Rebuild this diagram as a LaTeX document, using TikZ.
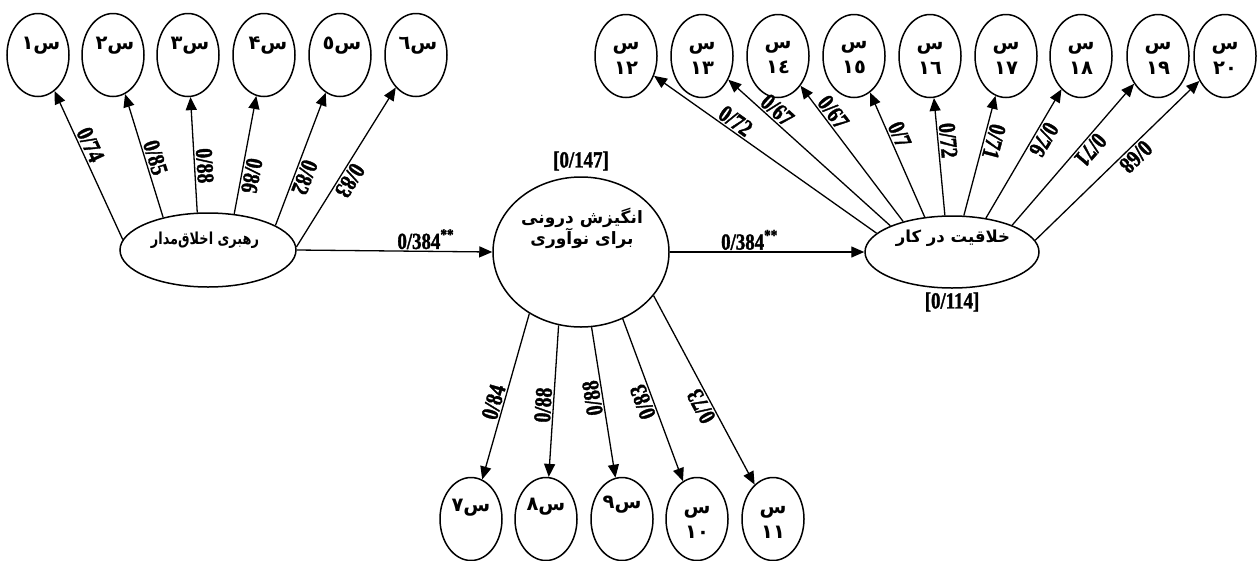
\documentclass[tikz,border=0pt]{standalone}
\usepackage{fontspec}
\usetikzlibrary{shapes.geometric,arrows.meta}
\TeXXeTstate=1
\newfontfamily\arabicfont[Script=Arabic]{DejaVu Sans}
\newfontfamily\arabiccond[Script=Arabic,FakeStretch=0.78]{DejaVu Sans}
\newfontfamily\numfont[FakeStretch=0.82,FakeBold=1.4]{Liberation Serif}
\begin{document}
\begin{tikzpicture}[x=1pt,y=-1pt,
  ell/.style={draw, ellipse, line width=1.5pt, minimum width=62pt, minimum height=83pt, inner sep=0pt},
  bigell/.style={draw, ellipse, line width=1.5pt, inner sep=0pt},
  artext/.style={font=\arabicfont\bfseries\fontsize{19.5}{25}\selectfont, inner sep=0pt, align=center},
  backarrow/.style={{Triangle[length=13pt,width=11pt]}-, line width=1.3pt},
  fwdarrow/.style={-{Triangle[length=13pt,width=11pt]}, line width=1.3pt},
  coef/.style={sloped, allow upside down, above, inner sep=1.5pt, font=\numfont\bfseries\fontsize{24}{24}\selectfont},
  numtext/.style={inner sep=1.5pt, font=\numfont\bfseries\fontsize{23}{23}\selectfont}
]
\useasboundingbox (0,0) rectangle (1257,560);

% main latent variables
\node[bigell, minimum width=176pt, minimum height=74pt] (rah) at (208,250) {};
\node[bigell, minimum width=176pt, minimum height=150pt] (mot) at (581,252) {};
\node[bigell, minimum width=174pt, minimum height=72pt] (cre) at (952,252) {};

\node[font=\arabiccond\bfseries\fontsize{16.5}{18}\selectfont, inner sep=0pt] (trah) at (205,240) {\beginR رهبری اخلاق‌مدار\endR};
\node[artext, font=\arabicfont\bfseries\fontsize{17}{21}\selectfont] (tmot) at (582,228) {\beginR انگیزش درونی\endR\\\beginR برای نوآوری\endR};
\node[artext, font=\arabicfont\bfseries\fontsize{16.5}{21}\selectfont] (tcre) at (953,238) {\beginR خلاقیت در کار\endR};

\node[numtext] (r2mot) at (581,161) {[0/147]};
\node[numtext] (r2cre) at (952,302) {[0/114]};

% indicator ellipses, left group
\foreach \i/\x in {1/38,2/113,3/188,4/264,5/340,6/416}
  \node[ell] (s\i) at (\x,55) {};
\node[artext] (t1) at (41,46) {\beginR س۱\endR};
\node[artext] (t2) at (115,46) {\beginR س۲\endR};
\node[artext] (t3) at (190,46) {\beginR س۳\endR};
\node[artext] (t4) at (268,46) {\beginR س۴\endR};
\node[artext] (t5) at (342,46) {\beginR س٥\endR};
\node[artext] (t6) at (418,46) {\beginR س٦\endR};

% indicator ellipses, bottom group
\foreach \i/\x in {7/471,8/546,9/622,10/697,11/773}
  \node[ell] (s\i) at (\x,519) {};
\node[artext] (t7) at (471,508) {\beginR س۷\endR};
\node[artext] (t8) at (546,507) {\beginR س۸\endR};
\node[artext] (t9) at (622,505) {\beginR س۹\endR};
\node[artext] (t10) at (697,522) {س\\۱۰};
\node[artext] (t11) at (773,522) {س\\۱۱};

% indicator ellipses, right group
\foreach \i/\x in {12/626,13/702,14/778,15/854,16/930,17/1006,18/1081,19/1158,20/1225}
  \node[ell] (s\i) at (\x,56) {};
\node[artext] (t12) at (626,58) {س\\۱۲};
\node[artext] (t13) at (702,58) {س\\۱۳};
\node[artext] (t14) at (778,58) {س\\۱٤};
\node[artext] (t15) at (854,58) {س\\۱٥};
\node[artext] (t16) at (930,58) {س\\۱٦};
\node[artext] (t17) at (1006,58) {س\\۱۷};
\node[artext] (t18) at (1081,58) {س\\۱۸};
\node[artext] (t19) at (1158,58) {س\\۱۹};
\node[artext] (t20) at (1225,58) {س\\۲۰};

% structural paths
\draw[fwdarrow] (rah.east) -- node[numtext, above, pos=0.66] (c1) {0/384\textsuperscript{**}} (mot.west);
\draw[fwdarrow] (mot.east) -- node[numtext, above, pos=0.41] (c2) {0/384\textsuperscript{**}} (cre.west);

% loadings, left group
\draw[backarrow] (s1) -- node[coef, pos=0.39] {0/74} (rah.173);
\draw[backarrow] (s2) -- node[coef, pos=0.54] {0/85} (rah.144);
\draw[backarrow] (s3) -- node[coef, pos=0.60] {0/88} (rah.106);
\draw[backarrow] (s4) -- node[coef, pos=0.66] {0/86} (rah.54);
\draw[backarrow] (s5) -- node[coef, pos=0.61] {0/82} (rah.20);
\draw[backarrow] (s6) -- node[coef, pos=0.55] {0/83} (rah.2);

% loadings, bottom group
\draw[backarrow] (s7) -- node[coef, pos=0.45] {0/84} (mot.230);
\draw[backarrow] (s8) -- node[coef, pos=0.47] {0/88} (mot.253);
\draw[backarrow] (s9) -- node[coef, pos=0.54] {0/88} (mot.278);
\draw[backarrow] (s10) -- node[coef, pos=0.51] {0/83} (mot.302);
\draw[backarrow] (s11) -- node[coef, pos=0.44] {0/73} (mot.329);

% loadings, right group
\draw[backarrow] (s12) -- node[coef, pos=0.34] {0/72} (cre.166);
\draw[backarrow] (s13) -- node[coef, pos=0.26] {0/67} (cre.157);
\draw[backarrow] (s14) -- node[coef, pos=0.24] {0/67} (cre.148);
\draw[backarrow] (s15) -- node[coef, pos=0.37] {0/7} (cre.128);
\draw[backarrow] (s16) -- node[coef, pos=0.37] {0/72} (cre.101);
\draw[backarrow] (s17) -- node[coef, pos=0.36] {0/71} (cre.72);
\draw[backarrow] (s18) -- node[coef, pos=0.35] {0/76} (cre.45);
\draw[backarrow] (s19) -- node[coef, pos=0.42] {0/71} (cre.24);
\draw[backarrow] (s20) -- node[coef, pos=0.43] {0/68} (cre.8);
\end{tikzpicture}
\end{document}
